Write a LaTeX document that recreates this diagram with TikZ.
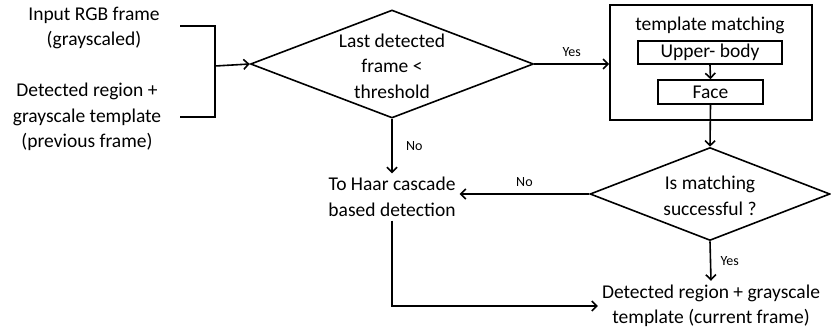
\documentclass[tikz,border=0pt]{standalone}
\usepackage{fontspec}
\setmainfont{Carlito}
\usepackage{tikz}
\usetikzlibrary{arrows.meta,shapes.geometric}

\begin{document}
\begin{tikzpicture}[x=1pt, y=-1pt, line width=1.6pt, >={Straight Barb[length=5pt,width=10pt]}]
\useasboundingbox (0,0) rectangle (831,330);
\begin{scope}[every node/.style={align=center,font=\fontsize{19.5}{25.5}\selectfont}]
    \node (in1) at (94,28) {Input RGB frame\\(grayscaled)};
    \node (in2) at (87,117) {Detected region +\\grayscale template\\(previous frame)};
    \node (haar) at (392,197) {To Haar cascade\\based detection};
    \node (out) at (711,306) {Detected region + grayscale\\template (current frame)};
    \node (cond1) at (392,66) {Last detected\\frame <\\threshold};
    \node (cond2) at (710,196) {Is matching\\successful ?};
    \node (title) at (710,25) {template matching};
\end{scope}
\begin{scope}[every node/.style={draw,inner sep=0pt}]
    \node[diamond, minimum width=283, minimum height=108] (dec1) at (392,64) {};
    \node[diamond, minimum width=240, minimum height=93] (dec2) at (710,194) {};
    \node[minimum width=202, minimum height=115] (match) at (711,62.5) {};
    \node[minimum width=144, minimum height=23, font=\fontsize{19.5}{22}\selectfont] (upper) at (710,52.5) {Upper- body};
    \node[minimum width=105, minimum height=24, font=\fontsize{19.5}{22}\selectfont] (face) at (710.5,92) {Face};
\end{scope}
\coordinate (b1) at (180,26);
\coordinate (b2) at (180,117);
\coordinate (join) at (215,66);
\draw (b1) -| (join) |- (b2);
\begin{scope}[every node/.style={font=\fontsize{14}{16}\selectfont}]
    \path [->] (join) edge (dec1.west);
    \path [->] (dec1.east) edge node[above=3pt] {Yes} (dec1.east -| match.west);
    \path [->] (dec1.south) edge node[right=10pt] {No} (haar.north);
    \path [->] (upper.south) edge (face.north);
    \path [->] (face.south) edge (dec2.north);
    \path [->] (dec2.west) edge node[above=3pt] {No} (dec2.west -| haar.east);
    \path [->] (dec2.south) edge node[right=6pt] {Yes} (out.north);
    \draw [->] (haar.south) |- (out.west);
\end{scope}
\end{tikzpicture}
\end{document}
